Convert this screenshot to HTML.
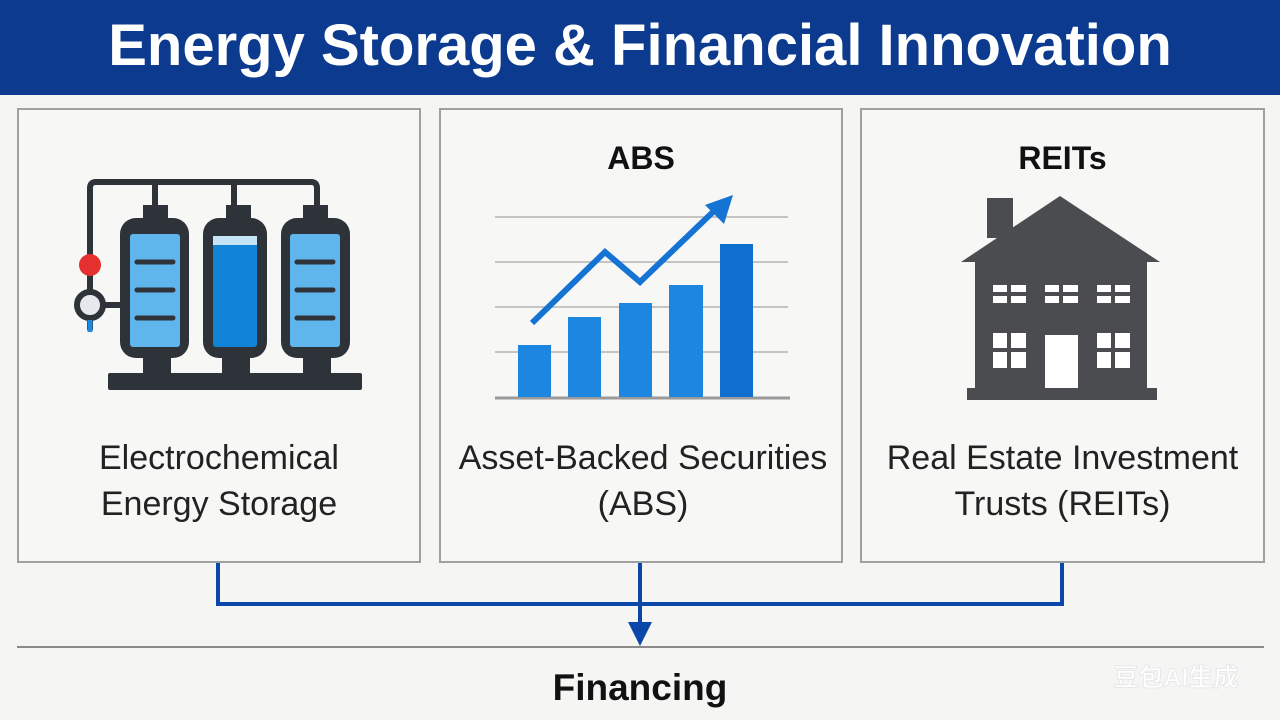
<!DOCTYPE html>
<html><head><meta charset="utf-8"><style>
body{margin:0;width:1280px;height:720px;background:#f5f5f4;font-family:"Liberation Sans",sans-serif;position:relative;overflow:hidden}
.hdr{position:absolute;left:0;top:0;width:1280px;height:95px;background:#0b3a8e;color:#fff;font-weight:bold;font-size:58px;text-align:center;line-height:92px}
.box{position:absolute;top:108px;height:455px;border:2px solid #a0a0a0;background:#f7f7f6;box-sizing:border-box}
.t{position:absolute;width:100%;text-align:center;font-size:34px;color:#222;line-height:46px}
.h{position:absolute;width:100%;text-align:center;font-size:32px;font-weight:bold;color:#111}
</style></head><body>
<div class="hdr">Energy Storage &amp; Financial Innovation</div>
<div class="box" style="left:17px;width:404px"><div class="t" style="top:325px">Electrochemical<br>Energy Storage</div></div>
<div class="box" style="left:439px;width:404px"><div class="h" style="top:30px">ABS</div><div class="t" style="top:325px;left:-4px;width:412px">Asset-Backed Securities<br>(ABS)</div></div>
<div class="box" style="left:860px;width:405px"><div class="h" style="top:30px">REITs</div><div class="t" style="top:325px">Real Estate Investment<br>Trusts (REITs)</div></div>
<svg width="1280" height="720" style="position:absolute;left:0;top:0">
<g fill="none" stroke="#2e3239" stroke-width="6">
<path d="M90 255V188q0-6 6-6H311q6 0 6 6V205M155 182v25M234 182v25"/>
<line x1="90" y1="255" x2="90" y2="330"/>
<line x1="100" y1="305" x2="122" y2="305"/>
</g>
<circle cx="90" cy="265" r="11" fill="#e53030"/>
<circle cx="90" cy="305" r="13" fill="#e6e8ee" stroke="#2e3239" stroke-width="6"/>
<line x1="90" y1="320" x2="90" y2="332" stroke="#1e88e5" stroke-width="5"/>
<rect x="108" y="373" width="254" height="17" rx="2" fill="#2e3239"/>
<g fill="#2e3239">
<rect x="143" y="205" width="25" height="20"/><rect x="143" y="350" width="28" height="25"/><rect x="120" y="218" width="69" height="140" rx="16"/>
<rect x="226" y="205" width="25" height="20"/><rect x="222" y="350" width="28" height="25"/><rect x="203" y="218" width="64" height="140" rx="16"/>
<rect x="303" y="205" width="25" height="20"/><rect x="303" y="350" width="28" height="25"/><rect x="281" y="218" width="69" height="140" rx="16"/>
</g>
<rect x="130" y="234" width="50" height="113" rx="3" fill="#5fb6ec"/>
<rect x="213" y="236" width="44" height="111" rx="3" fill="#1284d8"/><rect x="213" y="236" width="44" height="9" fill="#c6e4f7"/>
<rect x="290" y="234" width="50" height="113" rx="3" fill="#5fb6ec"/>
<g stroke="#2e3239" stroke-width="5" stroke-linecap="round">
<line x1="137" y1="262" x2="173" y2="262"/><line x1="137" y1="290" x2="173" y2="290"/><line x1="137" y1="318" x2="173" y2="318"/>
<line x1="297" y1="262" x2="333" y2="262"/><line x1="297" y1="290" x2="333" y2="290"/><line x1="297" y1="318" x2="333" y2="318"/>
</g>
<g stroke="#c4c4c4" stroke-width="2"><line x1="495" y1="217" x2="788" y2="217"/><line x1="495" y1="262" x2="788" y2="262"/><line x1="495" y1="307" x2="788" y2="307"/><line x1="495" y1="352" x2="788" y2="352"/></g>
<line x1="495" y1="398" x2="790" y2="398" stroke="#9a9a9a" stroke-width="3"/>
<g fill="#1c86e0"><rect x="518" y="345" width="33" height="52"/><rect x="568" y="317" width="33" height="80"/><rect x="619" y="303" width="33" height="94"/><rect x="669" y="285" width="34" height="112"/><rect x="720" y="244" width="33" height="153" fill="#0f6fcf"/></g>
<polyline points="532,323 605,252 640,282 715,210" fill="none" stroke="#1573d3" stroke-width="6"/>
<polygon points="733,195 705,205 724,224" fill="#1573d3"/>
<g fill="#4a4c50">
<rect x="987" y="198" width="26" height="40"/>
<polygon points="961,262 1060,196 1160,262"/>
<rect x="975" y="260" width="172" height="128"/>
<rect x="967" y="388" width="190" height="12"/>
</g>
<g fill="#fff">
<rect x="993" y="285" width="33" height="18"/><rect x="1045" y="285" width="33" height="18"/><rect x="1097" y="285" width="33" height="18"/>
<rect x="993" y="333" width="33" height="35"/><rect x="1097" y="333" width="33" height="35"/>
<rect x="1045" y="335" width="33" height="53"/>
</g>
<g stroke="#4a4c50" stroke-width="4">
<line x1="1009" y1="285" x2="1009" y2="303"/><line x1="1061" y1="285" x2="1061" y2="303"/><line x1="1113" y1="285" x2="1113" y2="303"/>
<line x1="993" y1="294" x2="1026" y2="294"/><line x1="1045" y1="294" x2="1078" y2="294"/><line x1="1097" y1="294" x2="1130" y2="294"/>
<line x1="1009" y1="333" x2="1009" y2="368"/><line x1="1113" y1="333" x2="1113" y2="368"/>
<line x1="993" y1="350" x2="1026" y2="350"/><line x1="1097" y1="350" x2="1130" y2="350"/>
</g>
<g fill="none" stroke="#0b47a8" stroke-width="4"><path d="M218 563V604H1062V563M640 563V625"/></g>
<polygon points="628,622 652,622 640,646" fill="#0b47a8"/>
<line x1="17" y1="647" x2="1264" y2="647" stroke="#8a8a8a" stroke-width="2"/>
<text x="640" y="700" text-anchor="middle" font-family="Liberation Sans,sans-serif" font-weight="bold" font-size="37" fill="#111">Financing</text>
<text x="1176" y="686" text-anchor="middle" font-family="Liberation Sans,Noto Sans CJK SC,sans-serif" font-weight="bold" font-size="25" fill="#fff" stroke="#e8e8e8" stroke-width="1">豆包AI生成</text>
</svg>
</body></html>
